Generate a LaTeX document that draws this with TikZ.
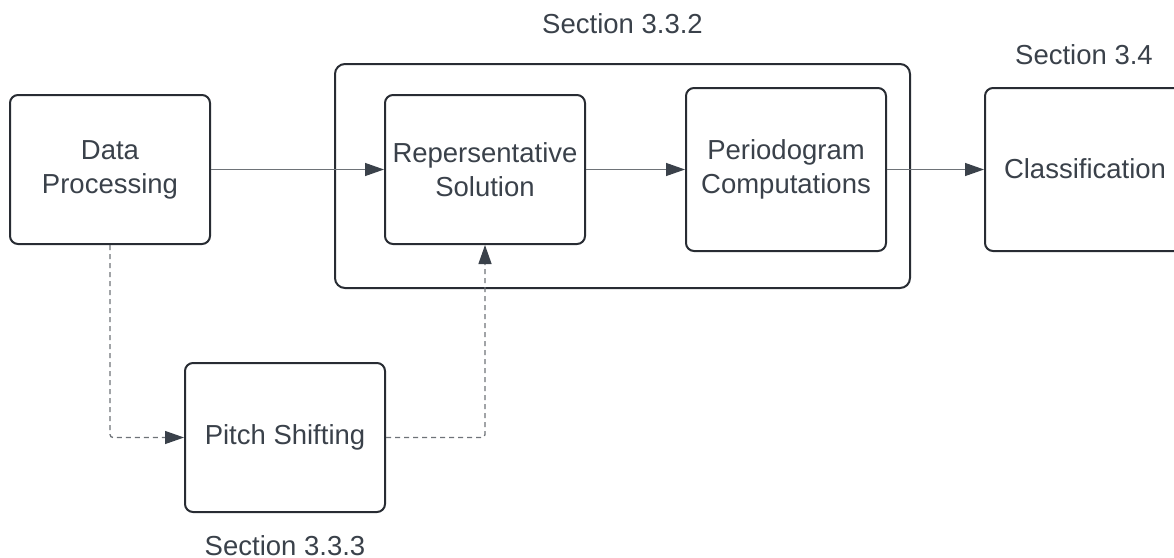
\documentclass[tikz,border=0pt]{standalone}
\usepackage{fontspec}
\setmainfont{Liberation Sans}
\usetikzlibrary{arrows.meta}
\definecolor{boxline}{HTML}{282C33}
\definecolor{txt}{HTML}{3A414A}
\definecolor{conncol}{HTML}{6E7378}
\tikzset{
  box/.style={draw=boxline, line width=2pt, rounded corners=8pt, text=txt,
    align=center, inner sep=0pt, font=\fontsize{27.5}{34}\selectfont},
  lbl/.style={text=txt, inner sep=0pt, anchor=base, font=\fontsize{27.5}{34}\selectfont},
  conn/.style={draw=conncol, line width=1.3pt,
    -{Triangle[length=19pt,width=13pt,fill=txt,color=txt]}},
  dconn/.style={conn, dash pattern=on 5pt off 4pt, rounded corners=3pt},
}
\begin{document}
\begin{tikzpicture}[x=1pt,y=-1pt]
\useasboundingbox (0,0) rectangle (1174,557);
\clip (0,0) rectangle (1174,557);
\node[box, rounded corners=10pt, minimum width=575pt, minimum height=224pt] (outer) at (622.5,176) {};
\node[box, minimum width=200pt, minimum height=149pt] (dp) at (110,169.5) {Data\\Processing};
\node[box, minimum width=200pt, minimum height=149pt] (rs) at (485,169.5) {Repersentative\\Solution};
\node[box, minimum width=200pt, minimum height=163pt] (pc) at (786,169.5) {Periodogram\\Computations};
\node[box, minimum width=200pt, minimum height=163pt] (cl) at (1085,169.5) {\raisebox{2pt}{Classification}};
\node[box, minimum width=200pt, minimum height=149pt] (ps) at (285,437.5) {Pitch Shifting};
\node[lbl] (s332) at (622.5,33) {Section 3.3.2};
\node[lbl] (s34) at (1084,64) {Section 3.4};
\node[lbl] (s333) at (285,555) {Section 3.3.3};
\draw[conn] (dp.east) -- (rs.west);
\draw[conn] (rs.east) -- (pc.west);
\draw[conn] (pc.east) -- (cl.west);
\draw[dconn] (dp.south) -- (dp.south |- ps.west) -- (ps.west);
\draw[dconn] (ps.east) -- (rs.south |- ps.east) -- (rs.south);
\end{tikzpicture}
\end{document}
